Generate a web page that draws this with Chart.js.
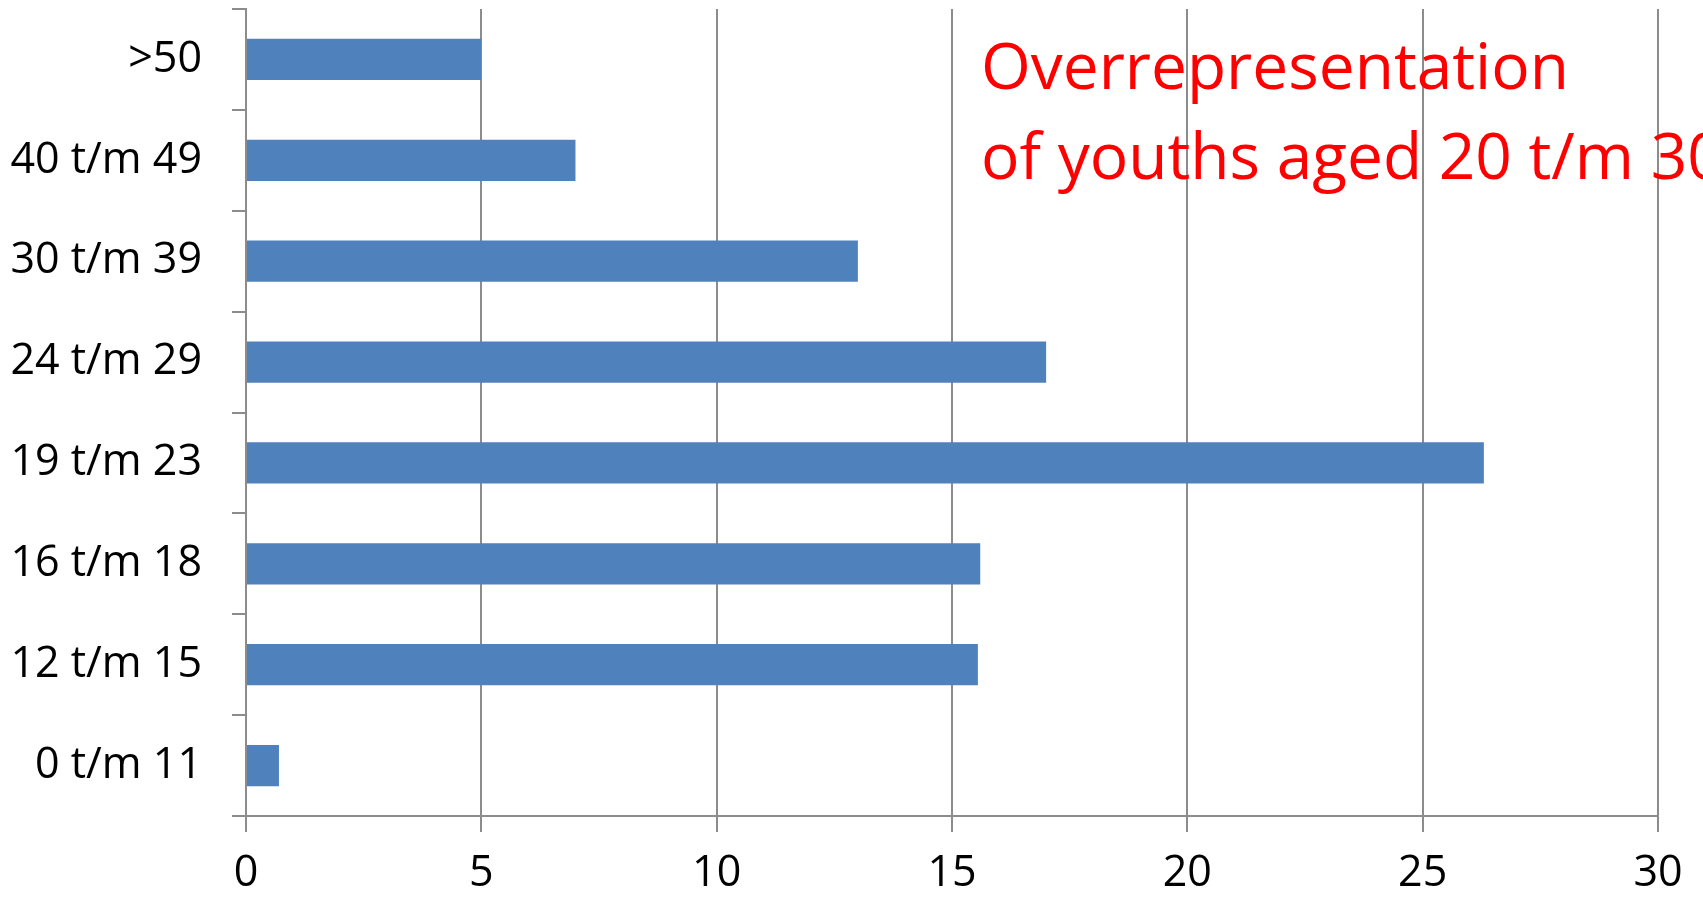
<!DOCTYPE html>
<html>
<head>
<meta charset="utf-8">
<script src="https://cdn.jsdelivr.net/npm/chart.js@4/dist/chart.umd.min.js"></script>
<style>
  html, body { margin: 0; padding: 0; background: #fff; }
  #wrap { width: 1703px; height: 898px; }
</style>
</head>
<body>
<div id="wrap"><canvas id="ageChart" width="1703" height="898"></canvas></div>
<script>
// age groups, top to bottom as in the picture
var ageGroups = [">50", "40 t/m 49", "30 t/m 39", "24 t/m 29", "19 t/m 23", "16 t/m 18", "12 t/m 15", "0 t/m 11"];
var percentages = [5.0, 7.0, 13.0, 17.0, 26.3, 15.6, 15.55, 0.7];
var xTicks = [0, 5, 10, 15, 20, 25, 30];
var noteLines = ["Overrepresentation", "of youths aged 20 t/m 30"];

var gridGrey = "#8c8c8c";

// red note in the upper right corner (runs off the right edge like the original)
var notePlugin = {
   id: "note",
   afterDraw: function (chart) {
      var c = chart.ctx;
      c.save();
      c.fillStyle = "#ff0000";
      c.font = "64px 'Open Sans'";
      c.textBaseline = "alphabetic";
      c.fillText(noteLines[0], 981, 89);
      c.fillText(noteLines[1], 981, 179);
      c.restore();
   },
};

var ctx = document.getElementById("ageChart").getContext("2d");
var chart = new Chart(ctx, {
   type: "bar",
   data: {
      labels: ageGroups,
      datasets: [
         {
            data: percentages,
            backgroundColor: "#4f81bd",
            barPercentage: 0.41,
            categoryPercentage: 1,
         },
      ],
   },
   options: {
      indexAxis: "y",
      responsive: false,
      animation: false,
      layout: { padding: { top: 9, right: 45, left: 0, bottom: 0 } },
      plugins: { legend: { display: false }, tooltip: { enabled: false } },
      scales: {
         x: {
            min: 0,
            max: 30,
            afterBuildTicks: function (scale) {
               scale.ticks = xTicks.map(function (v) { return { value: v }; });
            },
            afterFit: function (scale) { scale.height = 82; },
            grid: { color: gridGrey, lineWidth: 2, tickLength: 16, drawTicks: true },
            border: { color: gridGrey, width: 2 },
            ticks: { color: "#000", font: { family: "'Open Sans'", size: 43 }, padding: 16, maxRotation: 0 },
         },
         y: {
            afterFit: function (scale) {
               scale.width = 246;
               scale.paddingTop = 0;
               scale.paddingBottom = 0;
            },
            grid: { drawOnChartArea: false, color: gridGrey, lineWidth: 2, tickLength: 14, offset: true },
            border: { color: gridGrey, width: 2 },
            ticks: { color: "#000", font: { family: "'Open Sans'", size: 43 }, padding: 30 },
         },
      },
   },
   plugins: [notePlugin],
});
</script>
</body>
</html>
